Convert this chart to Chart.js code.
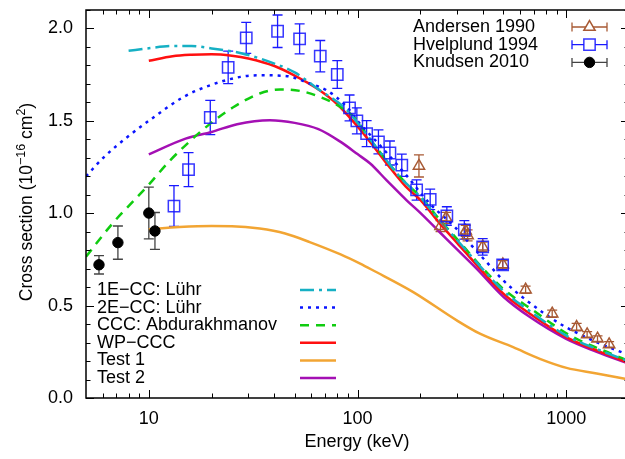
<!DOCTYPE html>
<html lang="en">
<head>
<meta charset="UTF-8">
<title>Cross section vs energy</title>
<script src="https://cdn.jsdelivr.net/npm/chart.js"></script>
<style>
  html, body { margin: 0; padding: 0; overflow: hidden; background: #fff; }
  canvas { display: block; }
</style>
</head>
<body>
<canvas id="chart" width="632" height="459"></canvas>
<script>
// ---- experimental data (energy keV, cross section 1e-16 cm^2, error) ----
const andersenE   = [197, 250, 266, 330, 337, 398, 497, 639, 857, 1122, 1260, 1413, 1606];
const andersenY   = [1.256, 0.930, 0.975, 0.905, 0.880, 0.819, 0.723, 0.586, 0.456, 0.384, 0.344, 0.321, 0.290];
const andersenErr = [0.06, 0.03, 0.03, 0.03, 0.03, 0.025, 0.02, 0.02, 0.02, 0.02, 0.015, 0.015, 0.015];

const hvelE   = [13.2, 15.5, 19.7, 24.0, 29.3, 41.4, 52.8, 66.3, 80, 91.6, 99.3, 110.6, 126, 143, 163, 192, 223, 268, 325, 398, 496];
const hvelY   = [1.039, 1.236, 1.518, 1.789, 1.949, 1.985, 1.944, 1.850, 1.751, 1.570, 1.500, 1.431, 1.386, 1.326, 1.260, 1.126, 1.075, 0.985, 0.910, 0.818, 0.721];
const hvelErr = [0.11, 0.092, 0.093, 0.088, 0.084, 0.088, 0.081, 0.085, 0.075, 0.07, 0.07, 0.07, 0.065, 0.065, 0.06, 0.055, 0.055, 0.05, 0.05, 0.045, 0.025];

const knudsenE   = [5.77, 7.11, 10.0, 10.7];
const knudsenY   = [0.721, 0.841, 1.001, 0.904];
const knudsenErr = [0.05, 0.09, 0.14, 0.10];

// ---- theory curves ----
const luhr1E = [8, 10, 13, 16, 20, 28, 40, 50, 66, 86, 100, 130, 160, 200, 250, 300, 400, 500, 700, 1000, 1400, 2000];
const luhr1Y = [1.879, 1.893, 1.905, 1.905, 1.892, 1.865, 1.810, 1.762, 1.666, 1.575, 1.490, 1.322, 1.195, 1.088, 0.955, 0.855, 0.695, 0.580, 0.455, 0.338, 0.265, 0.198];

const luhr2E = [5, 6.1, 7.9, 10.6, 14.7, 19.7, 27.5, 34, 46, 59, 71, 89, 100, 130, 170, 222, 293, 333, 416, 500, 646, 933, 1346, 2000];
const luhr2Y = [1.20, 1.304, 1.413, 1.521, 1.630, 1.693, 1.738, 1.747, 1.742, 1.702, 1.666, 1.575, 1.500, 1.360, 1.210, 1.052, 0.925, 0.855, 0.735, 0.636, 0.528, 0.402, 0.311, 0.232];

const cccE = [5, 6.68, 8.5, 10, 12.5, 15.3, 19.7, 25.5, 34, 42.6, 53, 66, 83, 96, 115, 140, 170, 200, 250, 300, 400, 500, 695, 1042, 1648, 2000];
const cccY = [0.765, 0.943, 1.070, 1.155, 1.280, 1.377, 1.485, 1.575, 1.648, 1.670, 1.662, 1.630, 1.575, 1.521, 1.400, 1.275, 1.165, 1.090, 0.960, 0.860, 0.700, 0.590, 0.474, 0.339, 0.239, 0.200];

const wpE = [10, 13, 16, 20, 25, 30, 40, 50, 65, 80, 100, 115, 140, 170, 200, 250, 300, 386, 500, 670, 1000, 1400, 2000];
const wpY = [1.825, 1.850, 1.858, 1.861, 1.853, 1.838, 1.797, 1.745, 1.670, 1.590, 1.470, 1.386, 1.260, 1.145, 1.072, 0.940, 0.840, 0.700, 0.565, 0.456, 0.330, 0.258, 0.190];

const test1E = [10, 14, 20, 25, 34, 45, 59, 83, 103, 119, 185, 299, 386, 557, 748, 1004, 1400, 2000];
const test1Y = [0.913, 0.925, 0.931, 0.930, 0.917, 0.890, 0.844, 0.777, 0.727, 0.690, 0.573, 0.420, 0.348, 0.275, 0.212, 0.163, 0.133, 0.100];

const test2E = [10, 15, 20, 26.5, 38, 50, 65, 83, 100, 115, 138, 172, 200, 250, 300, 372, 500, 670, 1000, 1400, 2000];
const test2Y = [1.319, 1.404, 1.440, 1.482, 1.503, 1.489, 1.455, 1.386, 1.320, 1.269, 1.178, 1.070, 1.002, 0.893, 0.804, 0.700, 0.548, 0.438, 0.320, 0.250, 0.185];

const xTickValues = [10, 100, 1000];
const yTickValues = [0, 0.5, 1.0, 1.5, 2.0];
const xTitle = 'Energy (keV)';
const yTitleParts = [['Cross section (10', false], ['\u221216', true], [' cm', false], ['2', true], [')', false]];

const pts = (xs, ys) => xs.map((x, i) => ({ x, y: ys[i] }));

const FONT = '"Liberation Sans", Arial, Helvetica, sans-serif';

function curve(label, xs, ys, color, dash) {
  return {
    label, data: pts(xs, ys), showLine: true, pointRadius: 0,
    borderColor: color, backgroundColor: color, borderWidth: 2.5,
    borderDash: dash, cubicInterpolationMode: 'monotone', legendGroup: 'lines'
  };
}

const datasets = [
  { label: 'Knudsen 2010', data: pts(knudsenE, knudsenY), errors: knudsenErr, errorColor: '#444444',
    pointStyle: 'circle', pointRadius: 5.2, borderWidth: 1, borderColor: '#000', backgroundColor: '#000', legendGroup: 'points' },
  { label: 'Hvelplund 1994', data: pts(hvelE, hvelY), errors: hvelErr, errorColor: '#1a1aff',
    pointStyle: 'rect', pointRadius: 8, borderWidth: 1.5, borderColor: 'rgba(20,20,255,0.85)', backgroundColor: 'rgba(0,0,0,0)', legendGroup: 'points' },
  { label: 'Andersen 1990', data: pts(andersenE, andersenY), errors: andersenErr, errorColor: '#a85a34',
    pointStyle: 'triangle', pointRadius: 6.5, borderWidth: 1.5, borderColor: '#a85a34', backgroundColor: 'rgba(0,0,0,0)', legendGroup: 'points' },
  curve('1E\u2212CC: L\u00fchr', luhr1E, luhr1Y, '#16b0c4', [14, 5, 3, 5]),
  curve('2E\u2212CC: L\u00fchr', luhr2E, luhr2Y, '#0a14ff', [3, 5]),
  curve('CCC: Abdurakhmanov', cccE, cccY, '#10cc10', [9, 7]),
  curve('WP\u2212CCC', wpE, wpY, '#ff1010', []),
  curve('Test 1', test1E, test1Y, '#f2a533', []),
  curve('Test 2', test2E, test2Y, '#a410b4', [])
];

const minorX = [6, 7, 8, 9, 20, 30, 40, 50, 60, 70, 80, 90, 200, 300, 400, 500, 600, 700, 800, 900, 2000];

const decor = {
  id: 'decor',
  beforeDatasetsDraw(chart) {
    const { ctx, chartArea: a, scales: { x, y } } = chart;
    ctx.save();
    ctx.beginPath();
    ctx.rect(a.left, a.top, a.right - a.left, a.bottom - a.top);
    ctx.clip();
    chart.data.datasets.forEach(ds => {
      if (!ds.errors) return;
      ctx.strokeStyle = ds.errorColor;
      ctx.lineWidth = 1.3;
      ds.data.forEach((p, j) => {
        const px = x.getPixelForValue(p.x);
        const y0 = y.getPixelForValue(p.y - ds.errors[j]);
        const y1 = y.getPixelForValue(p.y + ds.errors[j]);
        ctx.beginPath();
        ctx.moveTo(px, y0); ctx.lineTo(px, y1);
        ctx.moveTo(px - 5, y0); ctx.lineTo(px + 5, y0);
        ctx.moveTo(px - 5, y1); ctx.lineTo(px + 5, y1);
        ctx.stroke();
      });
    });
    ctx.restore();
  },
  afterDraw(chart) {
    const { ctx, chartArea: a, scales: { x, y } } = chart;
    ctx.save();
    // frame
    ctx.strokeStyle = '#000';
    ctx.lineWidth = 1.5;
    ctx.strokeRect(a.left, a.top, a.right - a.left, a.bottom - a.top);

    // inward ticks, mirrored
    ctx.lineWidth = 1;
    ctx.beginPath();
    const xt = (v, len) => {
      const px = Math.round(x.getPixelForValue(v)) + 0.5;
      ctx.moveTo(px, a.bottom); ctx.lineTo(px, a.bottom - len);
      ctx.moveTo(px, a.top); ctx.lineTo(px, a.top + len);
    };
    const yt = (v, len) => {
      const py = Math.round(y.getPixelForValue(v)) + 0.5;
      ctx.moveTo(a.left, py); ctx.lineTo(a.left + len, py);
      ctx.moveTo(a.right, py); ctx.lineTo(a.right - len, py);
    };
    xTickValues.forEach(v => xt(v, 8));
    minorX.forEach(v => xt(v, 4.5));
    for (let k = 0; k <= 21; k++) {
      const v = k / 10;
      yt(v, k % 5 === 0 ? 8 : 4.5);
    }
    ctx.stroke();

    // axis titles
    ctx.fillStyle = '#000';
    ctx.font = '18px ' + FONT;
    ctx.textAlign = 'center';
    ctx.textBaseline = 'middle';
    ctx.fillText(xTitle, 357, 442);

    ctx.save();
    ctx.translate(32, 202);
    ctx.rotate(-Math.PI / 2);
    const mainF = '17.5px ' + FONT, supF = '12.5px ' + FONT;
    let total = 0;
    yTitleParts.forEach(([t, sup]) => { ctx.font = sup ? supF : mainF; total += ctx.measureText(t).width; });
    let cx = -total / 2;
    ctx.textAlign = 'left';
    ctx.textBaseline = 'alphabetic';
    yTitleParts.forEach(([t, sup]) => {
      ctx.font = sup ? supF : mainF;
      ctx.fillText(t, cx, sup ? -7 : 0);
      cx += ctx.measureText(t).width;
    });
    ctx.restore();

    // legends
    ctx.font = '18px ' + FONT;
    ctx.textAlign = 'left';
    ctx.textBaseline = 'middle';
    const pointSets = chart.data.datasets.filter(d => d.legendGroup === 'points').reverse();
    pointSets.forEach((ds, i) => {
      const ry = 27 + i * 17.7;
      ctx.fillStyle = '#000';
      ctx.fillText(ds.label, 413, ry);
      ctx.strokeStyle = ds.errorColor;
      ctx.lineWidth = 1.3;
      ctx.setLineDash([]);
      ctx.beginPath();
      ctx.moveTo(572, ry); ctx.lineTo(607, ry);
      ctx.moveTo(572, ry - 4.5); ctx.lineTo(572, ry + 4.5);
      ctx.moveTo(607, ry - 4.5); ctx.lineTo(607, ry + 4.5);
      ctx.stroke();
      ctx.fillStyle = ds.backgroundColor === 'rgba(0,0,0,0)' ? '#fff' : ds.backgroundColor;
      ctx.strokeStyle = ds.borderColor;
      ctx.lineWidth = ds.borderWidth;
      Chart.helpers.drawPoint(ctx, { pointStyle: ds.pointStyle, radius: ds.pointRadius, borderWidth: ds.borderWidth, rotation: 0 }, 589.5, ry);
    });
    const lineSets = chart.data.datasets.filter(d => d.legendGroup === 'lines');
    lineSets.forEach((ds, i) => {
      const ry = 290 + i * 17.6;
      ctx.fillStyle = '#000';
      ctx.fillText(ds.label, 97, ry);
      ctx.strokeStyle = ds.borderColor;
      ctx.lineWidth = ds.borderWidth;
      ctx.setLineDash(ds.borderDash);
      ctx.beginPath();
      ctx.moveTo(300, ry); ctx.lineTo(336, ry);
      ctx.stroke();
    });
    ctx.restore();
  }
};

new Chart(document.getElementById('chart'), {
  type: 'scatter',
  data: { datasets },
  options: {
    responsive: false,
    animation: false,
    layout: { autoPadding: false, padding: { top: 10, right: 3, left: 0, bottom: 0 } },
    plugins: { legend: { display: false }, tooltip: { enabled: false } },
    scales: {
      x: {
        type: 'logarithmic', min: 5, max: 2000,
        grid: { display: false, drawTicks: false },
        border: { display: false },
        afterBuildTicks: s => { s.ticks = xTickValues.map(v => ({ value: v })); },
        afterFit: s => { s.height = 61; s.paddingLeft = 0; s.paddingRight = 0; },
        ticks: { color: '#000', font: { size: 18, family: FONT }, padding: 10, maxRotation: 0, autoSkip: false,
                 callback: v => String(v) }
      },
      y: {
        min: 0, max: 2.1,
        grid: { display: false, drawTicks: false },
        border: { display: false },
        afterBuildTicks: s => { s.ticks = yTickValues.map(v => ({ value: v })); },
        afterFit: s => { s.width = 86; s.paddingTop = 0; s.paddingBottom = 0; },
        ticks: { color: '#000', font: { size: 18, family: FONT }, padding: 13,
                 callback: v => v.toFixed(1) }
      }
    }
  },
  plugins: [decor]
});
</script>
</body>
</html>
